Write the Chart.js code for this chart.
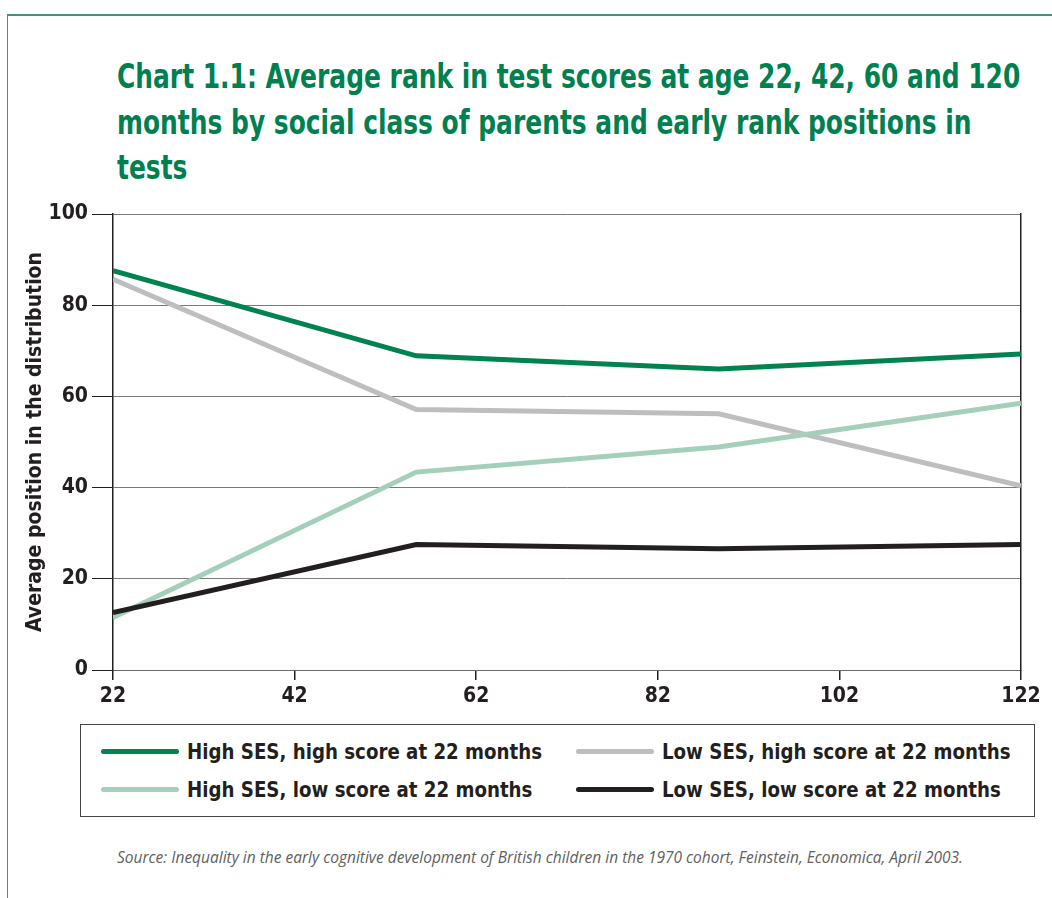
<!DOCTYPE html>
<html lang="en">
<head>
  <meta charset="UTF-8" />
  <title>Chart 1.1: Average rank in test scores</title>
  <script src="https://cdn.jsdelivr.net/npm/chart.js"></script>
  <style>
    body { margin: 0; background: #fff; width: 1052px; height: 898px; position: relative; overflow: hidden; }
    .frame { position: absolute; left: 7px; top: 14px; right: -5px; bottom: -5px;
             border-top: 2px solid #3c9677; border-left: 1.5px solid #3c9677; }
    .title { position: absolute; left: 117px; top: 54px; color: #00804f; white-space: nowrap;
             font-family: 'DejaVu Sans Condensed', 'DejaVu Sans', sans-serif; font-weight: bold;
             font-size: 34px; line-height: 45.5px; transform-origin: 0 0; transform: scaleX(0.815); }
    #wrap { position: absolute; left: 0; top: 190px; width: 1052px; height: 520px; }
    #legend { position: absolute; left: 80px; top: 724px; width: 955px; height: 93px; box-sizing: border-box;
              border: 1.5px solid #444; display: grid; grid-template-columns: 475px 470px;
              align-content: center; row-gap: 8px; }
    .item { display: flex; align-items: center; height: 30px; }
    .swatch { flex: 0 0 78px; height: 5px; border-radius: 3px; margin-left: 20px; margin-right: 8px; }
    .item span { font-family: 'DejaVu Sans Condensed', 'DejaVu Sans', sans-serif; font-weight: bold;
                 font-size: 22px; color: #231f20; white-space: nowrap; display: inline-block;
                 transform-origin: 0 50%; transform: scaleX(0.92); }
    .source { position: absolute; left: 117px; top: 846px; font-family: 'Open Sans', sans-serif;
              font-style: italic; font-size: 15.5px; color: #606062; white-space: nowrap; }
  </style>
</head>
<body>
  <div class="frame"></div>
  <div class="title">Chart 1.1: Average rank in test scores at age 22, 42, 60 and 120<br>months by social class of parents and early rank positions in<br>tests</div>
  <div id="wrap"><canvas id="chart" width="1052" height="520"></canvas></div>
  <div id="legend"></div>
  <div class="source">Source: Inequality in the early cognitive development of British children in the 1970 cohort, Feinstein, Economica, April 2003.</div>

  <script>
    // age in months (x) and average rank (y)
    const ages = [22, 55.4, 88.7, 122];
    const highSesHigh = [87.6, 68.9, 66.0, 69.3];
    const lowSesHigh = [85.7, 57.1, 56.2, 40.4];
    const highSesLow = [11.5, 43.4, 48.9, 58.5];
    const lowSesLow = [12.6, 27.5, 26.6, 27.5];
    const xTicks = [22, 42, 62, 82, 102, 122];
    const yTicks = [0, 20, 40, 60, 80, 100];

    const seriesNames = [
      'High SES, high score at 22 months',
      'Low SES, high score at 22 months',
      'High SES, low score at 22 months',
      'Low SES, low score at 22 months'
    ];
    const seriesValues = [highSesHigh, lowSesHigh, highSesLow, lowSesLow];
    const seriesColors = ['#00834f', '#bdbec0', '#a4cfbb', '#231f20'];

    const cond = "'DejaVu Sans Condensed', 'DejaVu Sans', sans-serif";

    const datasets = seriesNames.map((name, i) => ({
      label: name,
      data: ages.map((a, j) => ({ x: a, y: seriesValues[i][j] })),
      borderColor: seriesColors[i],
      backgroundColor: seriesColors[i],
      borderWidth: 5,
      pointRadius: 0,
      tension: 0,
      borderJoinStyle: 'miter'
    }));

    // draw the high-SES green last so it sits on top like the original
    const order = [3, 2, 1, 0];

    const ctx = document.getElementById('chart').getContext('2d');
    const chart = new Chart(ctx, {
      type: 'line',
      data: { datasets: order.map(i => datasets[i]) },
      options: {
        responsive: false,
        animation: false,
        layout: { padding: { top: 24, right: 31, left: 0, bottom: 0 } },
        plugins: { legend: { display: false }, tooltip: { enabled: false } },
        scales: {
          x: {
            type: 'linear', min: 22, max: 122,
            afterBuildTicks: s => { s.ticks = xTicks.map(v => ({ value: v })); },
            afterFit: s => { s.height = 40; },
            grid: { drawOnChartArea: false, tickLength: 10, color: '#231f20', lineWidth: 1.5 },
            border: { display: true, color: '#6a6a6a', width: 1 },
            ticks: { font: { family: cond, weight: 'bold', size: 21 }, color: '#231f20', padding: 4, maxRotation: 0 }
          },
          y: {
            min: 0, max: 100,
            afterBuildTicks: s => { s.ticks = yTicks.map(v => ({ value: v })); },
            afterFit: s => { s.width = 113; },
            grid: { color: '#7a7a7a', lineWidth: 1, tickLength: 21, tickColor: '#231f20' },
            border: { display: true, color: '#231f20', width: 1.5 },
            ticks: { font: { family: cond, weight: 'bold', size: 21 }, color: '#231f20', padding: 4 },
            title: { display: true, text: 'Average position in the distribution',
                     font: { family: cond, weight: 'bold', size: 21 }, color: '#231f20', padding: { top: 23, bottom: 0 } }
          },
          y2: {
            position: 'right', min: 0, max: 100,
            afterFit: s => { s.width = 0; },
            grid: { drawOnChartArea: false, drawTicks: false },
            border: { display: true, color: '#231f20', width: 1.5 },
            ticks: { display: false }
          }
        }
      }
    });

    // HTML legend in a boxed two-column grid, built from the chart datasets
    const legend = document.getElementById('legend');
    datasets.forEach(ds => {
      const item = document.createElement('div');
      item.className = 'item';
      item.innerHTML = '<div class="swatch" style="background:' + ds.borderColor + '"></div><span>' + ds.label + '</span>';
      legend.appendChild(item);
    });
  </script>
</body>
</html>
